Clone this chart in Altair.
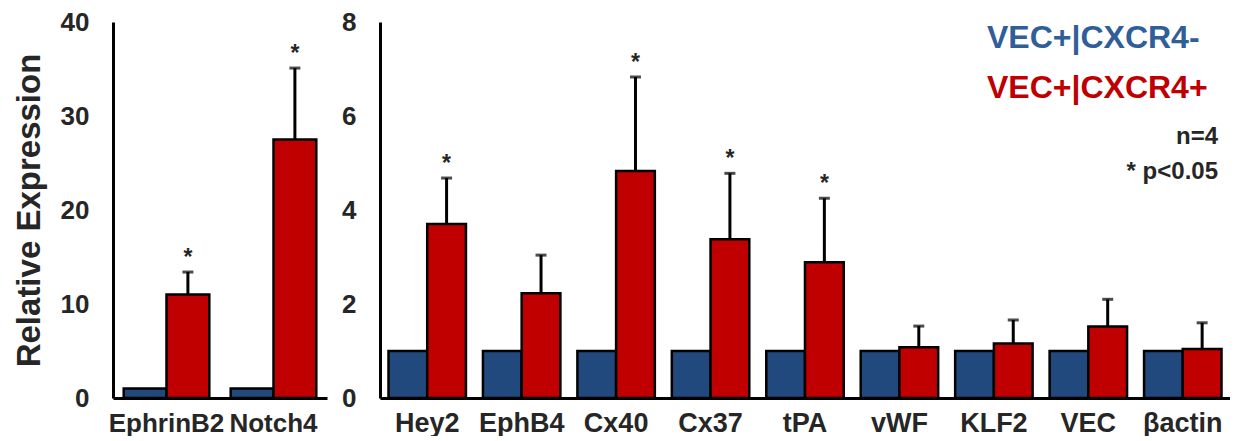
import altair as alt
import pandas as pd

# ---- data ----
groups = ["VEC+|CXCR4-", "VEC+|CXCR4+"]
bar_colors = ["#21497E", "#C00000"]
text_colors = ["#2F5E99", "#C00000"]
notes = ["n=4", "* p<0.05"]

genes_left = ["EphrinB2", "Notch4"]
neg_left = [1.0, 1.0]
pos_left = [11.0, 27.5]
err_left = [2.4, 7.6]
sig_left = [True, True]

genes_right = ["Hey2", "EphB4", "Cx40", "Cx37", "tPA", "vWF", "KLF2", "VEC", "βactin"]
neg_right = [1.0, 1.0, 1.0, 1.0, 1.0, 1.0, 1.0, 1.0, 1.0]
pos_right = [3.70, 2.23, 4.83, 3.38, 2.89, 1.08, 1.16, 1.52, 1.04]
err_right = [0.98, 0.81, 2.00, 1.40, 1.36, 0.45, 0.50, 0.58, 0.56]
sig_right = [True, False, True, True, True, False, False, False, False]

ticks_left = [0, 10, 20, 30, 40]
ticks_right = [0, 2, 4, 6, 8]

FONT = "Liberation Sans"
TXT = "#262626"


def make_df(genes, neg, pos, err, sig):
    rows = []
    for g, n, p, e, s in zip(genes, neg, pos, err, sig):
        rows.append(dict(gene=g, group=groups[0], value=n, top=n, sig=False))
        rows.append(dict(gene=g, group=groups[1], value=p, top=p + e, sig=s))
    return pd.DataFrame(rows)


def panel(df, genes, ticks, width, title, pad_inner, pad_outer, xlabel_size, extra=None):
    xscale = alt.Scale(domain=genes, paddingInner=pad_inner, paddingOuter=pad_outer)
    xaxis = alt.Axis(title=None, labelAngle=0, labelPadding=12, labelBaseline="top",
                     labelFontSize=xlabel_size)
    xenc = alt.X("gene:N", sort=genes, scale=xscale, axis=xaxis)
    xoff = alt.XOffset("group:N", scale=alt.Scale(domain=groups, paddingInner=0, paddingOuter=0))
    yscale = alt.Scale(domain=[ticks[0], ticks[-1]], nice=False)
    yaxis = alt.Axis(values=ticks, title=title, labelPadding=24, titlePadding=14)
    bars = alt.Chart(df).mark_bar(stroke="black", strokeWidth=2.5).encode(
        x=xenc, xOffset=xoff,
        y=alt.Y("value:Q", scale=yscale, axis=yaxis),
        color=alt.Color("group:N", scale=alt.Scale(domain=groups, range=bar_colors), legend=None),
    )
    red = df[df["group"] == groups[1]]
    rule = alt.Chart(red).mark_rule(color="black", strokeWidth=3).encode(
        x=xenc, xOffset=xoff, y=alt.Y("value:Q", scale=yscale, axis=yaxis), y2="top:Q")
    cap = alt.Chart(red).mark_tick(color="black", thickness=3, size=11, orient="horizontal").encode(
        x=xenc, xOffset=xoff, y=alt.Y("top:Q", scale=yscale, axis=yaxis))
    star = alt.Chart(red[red["sig"]]).mark_text(
        text="*", fontSize=23, fontWeight="bold", font=FONT, color=TXT, baseline="bottom", dy=-2
    ).encode(x=xenc, xOffset=xoff, y=alt.Y("top:Q", scale=yscale, axis=yaxis))
    layers = [bars, rule, cap, star]
    if extra:
        layers += extra
    return alt.layer(*layers).properties(width=width, height=376)


def label(txt, color, size, x, y, align):
    return alt.Chart(pd.DataFrame({"t": [txt]})).mark_text(
        font=FONT, fontWeight="bold", fontSize=size, color=color, align=align, baseline="middle"
    ).encode(text="t:N", x=alt.value(x), y=alt.value(y))


legend_layers = [
    label(groups[0], text_colors[0], 32, 607, 16, "left"),
    label(groups[1], text_colors[1], 32, 607, 66, "left"),
    label(notes[0], TXT, 24, 838, 115, "right"),
    label(notes[1], TXT, 24, 838, 150, "right"),
]

left = panel(make_df(genes_left, neg_left, pos_left, err_left, sig_left),
             genes_left, ticks_left, 214, "Relative Expression", 0.2, 0.1, 26)
right = panel(make_df(genes_right, neg_right, pos_right, err_right, sig_right),
              genes_right, ticks_right, 850, None, 0.18, 0.09, 27, legend_layers)

chart = alt.hconcat(left, right, spacing=53, bounds="flush").resolve_scale(
    x="independent", xOffset="independent", y="independent"
).properties(
    padding={"left": 5, "top": 1, "right": 0, "bottom": 0}
).configure_view(stroke=None).configure_axis(
    domainColor="black", domainWidth=3, ticks=False, tickSize=0, grid=False,
    labelFont=FONT, labelFontWeight="bold", labelFontSize=26, labelColor=TXT,
    titleFont=FONT, titleFontWeight="bold", titleFontSize=33, titleColor=TXT,
)

chart.save("out.html", embed_options={"renderer": "svg", "actions": False})
